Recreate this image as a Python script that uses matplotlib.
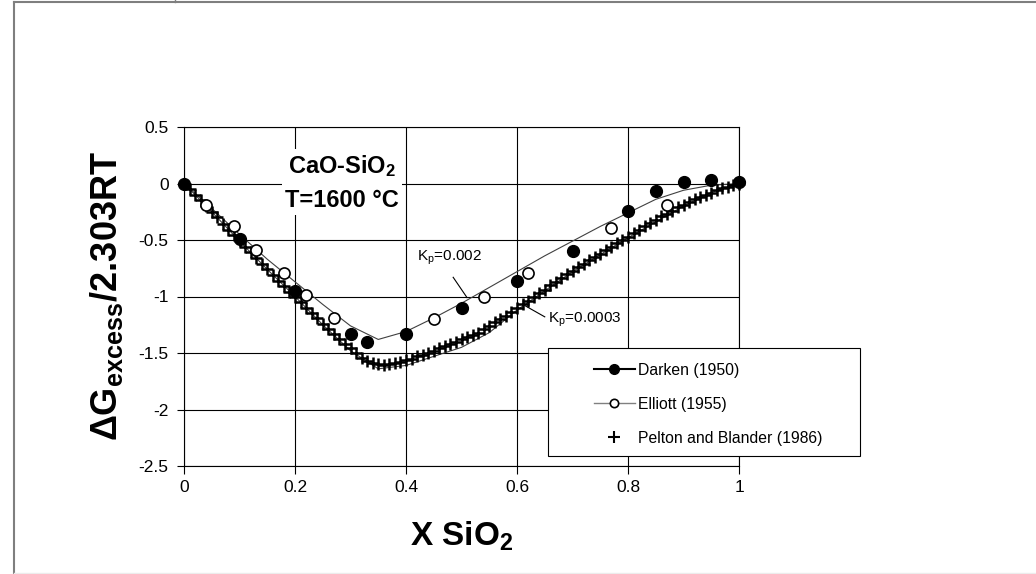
import numpy as np
import matplotlib
matplotlib.use("Agg")
import matplotlib.pyplot as plt
from matplotlib.lines import Line2D
from matplotlib.patches import Rectangle
from matplotlib.ticker import FuncFormatter

plt.rcParams['font.family'] = ['Liberation Sans', 'DejaVu Sans']
plt.rcParams['mathtext.fontset'] = 'custom'
plt.rcParams['mathtext.rm'] = 'Liberation Sans'
plt.rcParams['mathtext.bf'] = 'Liberation Sans:bold'
plt.rcParams['mathtext.it'] = 'Liberation Sans:italic'
plt.rcParams['axes.unicode_minus'] = False

# Darken (1950), filled circles
darken_x = [0, 0.1, 0.2, 0.3, 0.33, 0.4, 0.5, 0.6, 0.7, 0.8, 0.85, 0.9, 0.95, 1.0]
darken_y = [0, -0.49, -0.95, -1.33, -1.40, -1.33, -1.10, -0.86, -0.60, -0.24, -0.07, 0.01, 0.03, 0.01]

# Elliott (1955), open circles
elliott_x = [0.04, 0.09, 0.13, 0.18, 0.22, 0.27, 0.45, 0.54, 0.62, 0.77, 0.87]
elliott_y = [-0.19, -0.38, -0.59, -0.79, -0.99, -1.19, -1.20, -1.00, -0.79, -0.39, -0.19]

# Pelton and Blander (1986), '+' every 0.01
pelton_x = [i / 100 for i in range(101)]
pelton_y = [0, -0.05, -0.10, -0.15, -0.20, -0.25, -0.30, -0.36, -0.41, -0.46,
            -0.51, -0.56, -0.61, -0.66, -0.71, -0.76, -0.81, -0.86, -0.91, -0.96,
            -1.00, -1.05, -1.10, -1.15, -1.19, -1.24, -1.29, -1.33, -1.38, -1.42,
            -1.46, -1.50, -1.54, -1.57, -1.59, -1.60, -1.61, -1.60, -1.59, -1.58,
            -1.56, -1.55, -1.53, -1.52, -1.50, -1.48, -1.46, -1.44, -1.42, -1.40,
            -1.38, -1.36, -1.34, -1.32, -1.29, -1.26, -1.23, -1.20, -1.17, -1.14,
            -1.10, -1.07, -1.04, -1.00, -0.97, -0.94, -0.90, -0.87, -0.84, -0.80,
            -0.77, -0.74, -0.71, -0.68, -0.65, -0.62, -0.59, -0.56, -0.53, -0.50,
            -0.47, -0.44, -0.41, -0.38, -0.35, -0.32, -0.29, -0.27, -0.24, -0.21,
            -0.19, -0.16, -0.14, -0.12, -0.10, -0.08, -0.06, -0.04, -0.03, -0.01, 0]

# model curves
kp_x = [0, 0.05, 0.1, 0.15, 0.2, 0.25, 0.3, 0.35, 0.4, 0.45, 0.5,
        0.55, 0.6, 0.65, 0.7, 0.75, 0.8, 0.85, 0.9, 0.95, 1.0]
kp002_y = [0, -0.22, -0.45, -0.67, -0.87, -1.07, -1.26, -1.38, -1.31, -1.19, -1.06,
           -0.92, -0.78, -0.64, -0.51, -0.38, -0.26, -0.14, -0.06, -0.015, 0]
kp0003_y = [0, -0.25, -0.51, -0.76, -1.00, -1.25, -1.48, -1.64, -1.61, -1.53, -1.45,
            -1.32, -1.12, -0.95, -0.78, -0.63, -0.48, -0.34, -0.20, -0.08, 0]

x_ticks = [0, 0.2, 0.4, 0.6, 0.8, 1.0]
y_ticks = [0.5, 0, -0.5, -1, -1.5, -2, -2.5]

W, H = 1036, 574
fig = plt.figure(figsize=(W / 100, H / 100), dpi=100)
ax = fig.add_axes([184 / W, 1 - 466 / H, 555 / W, 339 / H])

ax.plot(kp_x, kp002_y, color='#404040', lw=0.8, zorder=2)
ax.plot(kp_x, kp0003_y, color='#404040', lw=0.8, zorder=2)
ax.plot(pelton_x, pelton_y, ls='none', marker='+', color='black', ms=8, mew=1.8,
        zorder=3, clip_on=False)
ax.plot(elliott_x, elliott_y, ls='none', marker='o', ms=8, mfc='white', mec='black',
        mew=1.2, zorder=4, clip_on=False)
ax.plot(darken_x, darken_y, ls='none', marker='o', ms=8.5, mfc='black', mec='black',
        zorder=5, clip_on=False)

ax.set_xlim(0, 1)
ax.set_ylim(-2.5, 0.5)
ax.set_xticks(x_ticks)
ax.set_yticks(y_ticks)
fmt = FuncFormatter(lambda v, p: '%g' % v)
ax.xaxis.set_major_formatter(fmt)
ax.yaxis.set_major_formatter(fmt)
ax.tick_params(axis='both', labelsize=12.5, color='black', width=0.8, direction='out')
ax.tick_params(axis='x', length=6, pad=4)
ax.tick_params(axis='y', length=5, pad=6)
ax.grid(True, color='black', lw=0.8)
ax.set_axisbelow(True)
for s in ax.spines.values():
    s.set_color('black')
    s.set_linewidth(0.8)

ax.set_xlabel(r'X SiO$_\mathbf{2}$', fontsize=24, fontweight='bold', labelpad=18)
ax.set_ylabel(r'$\mathbf{\Delta G_{excess}/2.303RT}$', fontsize=26, labelpad=10)

ax.text(0.285, 0.01, 'CaO-SiO$_\\mathbf{2}$\nT=1600 °C', fontsize=17, fontweight='bold',
        ha='center', va='center', multialignment='center', linespacing=1.55,
        bbox=dict(facecolor='white', edgecolor='none', pad=2), zorder=6)

ax.text(0.42, -0.655, 'K$_\\mathregular{p}$=0.002', fontsize=11, ha='left', va='center', zorder=6)
ax.plot([0.485, 0.51], [-0.83, -1.01], color='black', lw=0.8, zorder=6)
ax.text(0.656, -1.21, 'K$_\\mathregular{p}$=0.0003', fontsize=11, ha='left', va='center', zorder=6)
ax.plot([0.614, 0.65], [-1.08, -1.18], color='black', lw=0.8, zorder=6)

# legend box sticking out of the plot area
fig.add_artist(Rectangle((548 / W, 1 - 456 / H), 312 / W, 108 / H, transform=fig.transFigure,
                         facecolor='white', edgecolor='black', lw=0.8, zorder=3))
handles = [
    Line2D([], [], color='black', lw=1.5, marker='o', ms=7, mfc='black', mec='black'),
    Line2D([], [], color='#808080', lw=1, marker='o', ms=6, mfc='white', mec='black', mew=1.2),
    Line2D([], [], ls='none', marker='+', color='black', ms=8, mew=1.5),
]
labels = ['Darken (1950)', 'Elliott (1955)', 'Pelton and Blander (1986)']
fig.legend(handles, labels, loc='upper left', bbox_to_anchor=(586 / W, 1 - 355 / H),
           frameon=False, borderpad=0, fontsize=11.3, labelspacing=1.2,
           handlelength=2.6, handletextpad=0.2)

# page frame lines
fig.add_artist(Line2D([14 / W, 14 / W], [0, 1 - 2 / H], transform=fig.transFigure,
                      color='#7f7f7f', lw=1.5))
fig.add_artist(Line2D([14 / W, 1], [1 - 2 / H, 1 - 2 / H], transform=fig.transFigure,
                      color='#7f7f7f', lw=1.5))
fig.add_artist(Line2D([175 / W, 175 / W], [1 - 2 / H, 1], transform=fig.transFigure,
                      color='#7f7f7f', lw=1))
fig.add_artist(Line2D([14 / W, 1], [1.5 / H, 1.5 / H], transform=fig.transFigure,
                      color='#ececec', lw=1))

fig.savefig('out.png', dpi=100)
